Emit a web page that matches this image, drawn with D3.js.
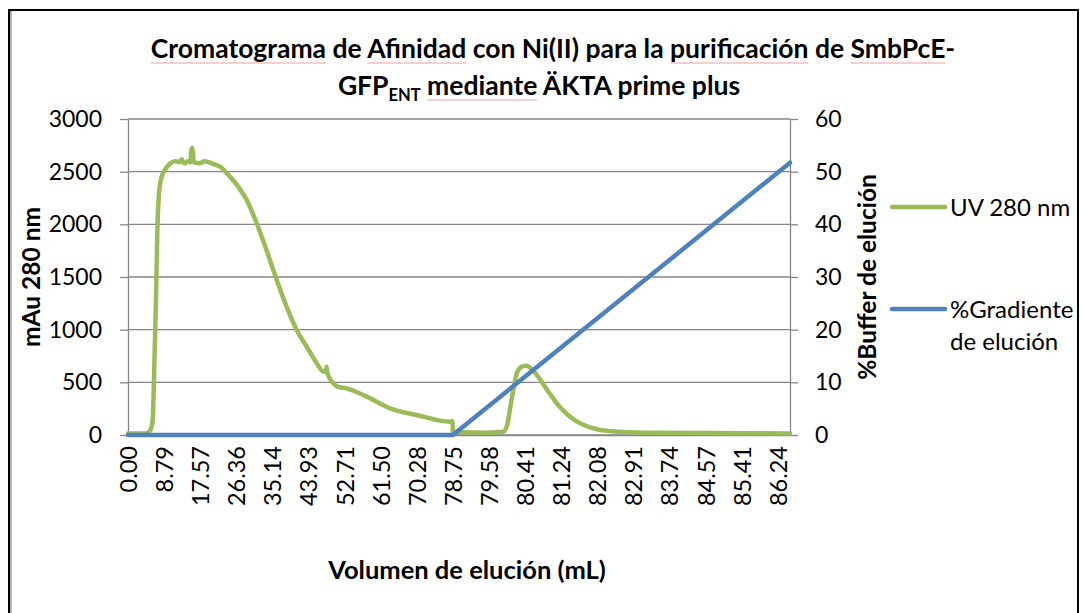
<!DOCTYPE html>
<html>
<head>
<meta charset="utf-8">
<script src="https://cdn.jsdelivr.net/npm/d3@7"></script>
<style>
  html, body { margin: 0; padding: 0; background: #fff; }
  svg { display: block; font-family: Lato, "Open Sans", sans-serif; }
</style>
</head>
<body>
<svg id="chart" width="1083" height="613"></svg>
<script>
// Category labels on the volume axis (mL)
const volumeTicks = [0.00, 8.79, 17.57, 26.36, 35.14, 43.93, 52.71, 61.50, 70.28,
  78.75, 79.58, 80.41, 81.24, 82.08, 82.91, 83.74, 84.57, 85.41, 86.24];
const volumeEnd = 86.52;

// UV 280 nm absorbance trace (mL, mAU)
const uvVolume = [0, 4.0, 4.94, 5.6, 6.01, 6.40, 6.81, 7.13, 7.62, 8.2, 9.0, 10.2,
  11.5, 12.5, 13.07, 13.5, 13.87, 14.6, 15.2, 15.4, 15.6, 15.8, 16.0, 17.52, 18.5,
  19.95, 21.0, 22.39, 24.4, 26.6, 28.9, 31.3, 33.7, 36.2, 38.6, 41.05, 43.5, 45.9,
  47.6, 48.2, 48.35, 48.5, 49.96, 51.0, 53.2, 58.1, 63.76, 70.27, 78.07, 78.6, 78.7,
  78.75, 78.98, 79.5, 79.91, 80.0, 80.06, 80.14, 80.22, 80.33, 80.44, 80.6, 80.8,
  81.0, 81.2, 81.4, 81.6, 81.8, 82.0, 82.3, 82.6, 83.0, 83.5, 84.5, 86.52];
const uvValue = [15, 15, 25, 60, 142, 648, 1281, 1914, 2326, 2452, 2516, 2575,
  2600, 2590, 2617, 2585, 2579, 2600, 2590, 2700, 2725, 2690, 2590, 2579, 2600,
  2585, 2570, 2547, 2470, 2370, 2230, 2013, 1756, 1472, 1218, 997, 838, 683,
  600, 620, 648, 590, 491, 460, 443, 364, 253, 190, 126, 130, 110,
  30, 25, 22, 30, 95, 237, 427, 585, 648, 658, 610, 500,
  380, 270, 190, 130, 90, 62, 40, 30, 24, 21, 18, 15];

// Elution gradient (% buffer B)
const gradVolume = [0, 78.75, 86.52];
const gradValue = [0, 0, 51.7];

const uvTicks = [0, 500, 1000, 1500, 2000, 2500, 3000];
const pctTicks = [0, 10, 20, 30, 40, 50, 60];

const colors = { uv: "#9bbb59", grad: "#4f81bd", grid: "#868686" };

const svg = d3.select("#chart");
const plot = { left: 128, right: 790, top: 119, bottom: 435 };

// Category axis: labels are evenly spaced, so volume maps piecewise onto slots
const slotCount = 18.34;
const slotW = (plot.right - plot.left) / slotCount;
const x = d3.scaleLinear()
  .domain(volumeTicks.concat([volumeEnd]))
  .range(volumeTicks.map((v, i) => plot.left + i * slotW).concat([plot.right]));
const yL = d3.scaleLinear().domain([0, 3000]).range([plot.bottom, plot.top]);
const yR = d3.scaleLinear().domain([0, 60]).range([plot.bottom, plot.top]);

// Outer frame
svg.append("path")
  .attr("d", "M9,613 V10 H1078 V613")
  .attr("fill", "none").attr("stroke", "#000").attr("stroke-width", 2);
svg.append("line").attr("x1", 11).attr("x2", 11).attr("y1", 11).attr("y2", 613)
  .attr("stroke", "#9a9a9a").attr("stroke-width", 1.5);

// Gridlines
svg.append("g").selectAll("line").data(uvTicks).join("line")
  .attr("x1", plot.left).attr("x2", plot.right)
  .attr("y1", d => yL(d)).attr("y2", d => yL(d))
  .attr("stroke", colors.grid).attr("stroke-width", 1.3);

// Left axis
const axL = svg.append("g").attr("transform", `translate(${plot.left},0)`)
  .call(d3.axisLeft(yL).tickValues(uvTicks).tickSize(8).tickSizeOuter(0).tickPadding(18).tickFormat(d3.format("d")));
// Right axis
const axR = svg.append("g").attr("transform", `translate(${plot.right},0)`)
  .call(d3.axisRight(yR).tickValues(pctTicks).tickSize(8).tickSizeOuter(0).tickPadding(17).tickFormat(d3.format("d")));
[axL, axR].forEach(a => {
  a.select(".domain").attr("stroke", colors.grid).attr("stroke-width", 1.3);
  a.selectAll(".tick line").attr("stroke", colors.grid).attr("stroke-width", 1.3);
  a.selectAll(".tick text").attr("font-family", "Lato").attr("font-size", 23).attr("fill", "#000");
});

// Bottom category axis
const axB = svg.append("g").attr("transform", `translate(0,${plot.bottom})`)
  .call(d3.axisBottom(x).tickValues(volumeTicks).tickSize(0).tickFormat(d3.format(".2f")));
axB.select(".domain").attr("stroke", colors.grid).attr("stroke-width", 1.3);
axB.selectAll(".tick text")
  .attr("font-family", "Lato").attr("font-size", 23.5).attr("fill", "#000")
  .attr("text-anchor", "end")
  .attr("transform", "translate(0,11) rotate(-90)")
  .attr("x", 0).attr("y", 0).attr("dy", "0.36em");

// Series
const line = d3.line().curve(d3.curveMonotoneX).x(d => x(d[0])).y(d => d[2](d[1]));
const uvPts = uvVolume.map((v, i) => [v, uvValue[i], yL]);
const gradPts = gradVolume.map((v, i) => [v, gradValue[i], yR]);
svg.append("path").attr("d", line(uvPts)).attr("fill", "none")
  .attr("stroke", colors.uv).attr("stroke-width", 4.5).attr("stroke-linejoin", "round").attr("stroke-linecap", "round");
svg.append("path").attr("d", d3.line().x(d => x(d[0])).y(d => d[2](d[1]))(gradPts)).attr("fill", "none")
  .attr("stroke", colors.grad).attr("stroke-width", 4.5).attr("stroke-linejoin", "round").attr("stroke-linecap", "round");

// Axis titles
svg.append("text").attr("transform", `translate(40,${(plot.top + plot.bottom) / 2}) rotate(-90)`)
  .attr("text-anchor", "middle").attr("font-weight", "bold").attr("font-size", 24.5).text("mAu 280 nm");
svg.append("text").attr("transform", `translate(876,${(plot.top + plot.bottom) / 2}) rotate(-90)`)
  .attr("text-anchor", "middle").attr("font-weight", "bold").attr("font-size", 24.5).text("%Buffer de elución");
svg.append("text").attr("x", 467).attr("y", 579)
  .attr("text-anchor", "middle").attr("font-weight", "bold").attr("font-size", 25.5).text("Volumen de elución (mL)");

// Legend
const legend = svg.append("g");
const legendRows = [
  { y: 207, color: colors.uv, lines: ["UV 280 nm"] },
  { y: 309, color: colors.grad, lines: ["%Gradiente", "de elución"] }
];
legendRows.forEach(r => {
  legend.append("line").attr("x1", 892).attr("x2", 945).attr("y1", r.y).attr("y2", r.y)
    .attr("stroke", r.color).attr("stroke-width", 4.5).attr("stroke-linecap", "round");
  r.lines.forEach((t, i) => legend.append("text").attr("x", 950).attr("y", r.y + i * 32)
    .attr("dy", "0.36em").attr("font-size", 24).text(t));
});

// Title
const title = svg.append("g").attr("font-weight", "bold").attr("text-anchor", "middle");
const t1 = title.append("text").attr("x", 553).attr("y", 58).attr("font-size", 26.5)
  .text("Cromatograma de Afinidad con Ni(II) para la purificación de SmbPcE-");
const t2 = title.append("text").attr("x", 539).attr("y", 95).attr("font-size", 26.5);
t2.append("tspan").text("GFP");
t2.append("tspan").attr("font-size", 16.5).attr("dy", 6).text("ENT");
t2.append("tspan").attr("dy", -6).text(" mediante ÄKTA prime plus");

// Spell-check style underlines beneath flagged words
function underline(textSel, word) {
  const node = textSel.node();
  const s = node.textContent;
  const i = s.indexOf(word);
  if (i < 0) return;
  const a = node.getStartPositionOfChar(i);
  const b = node.getEndPositionOfChar(i + word.length - 1);
  svg.append("line").attr("x1", a.x).attr("x2", b.x).attr("y1", a.y + 5).attr("y2", a.y + 5)
    .attr("stroke", "#e8a0a0").attr("stroke-width", 1);
}
["Cromatograma", "Afinidad", "purificación", "SmbPcE"].forEach(w => underline(t1, w));
underline(t2, "mediante");
</script>
</body>
</html>
